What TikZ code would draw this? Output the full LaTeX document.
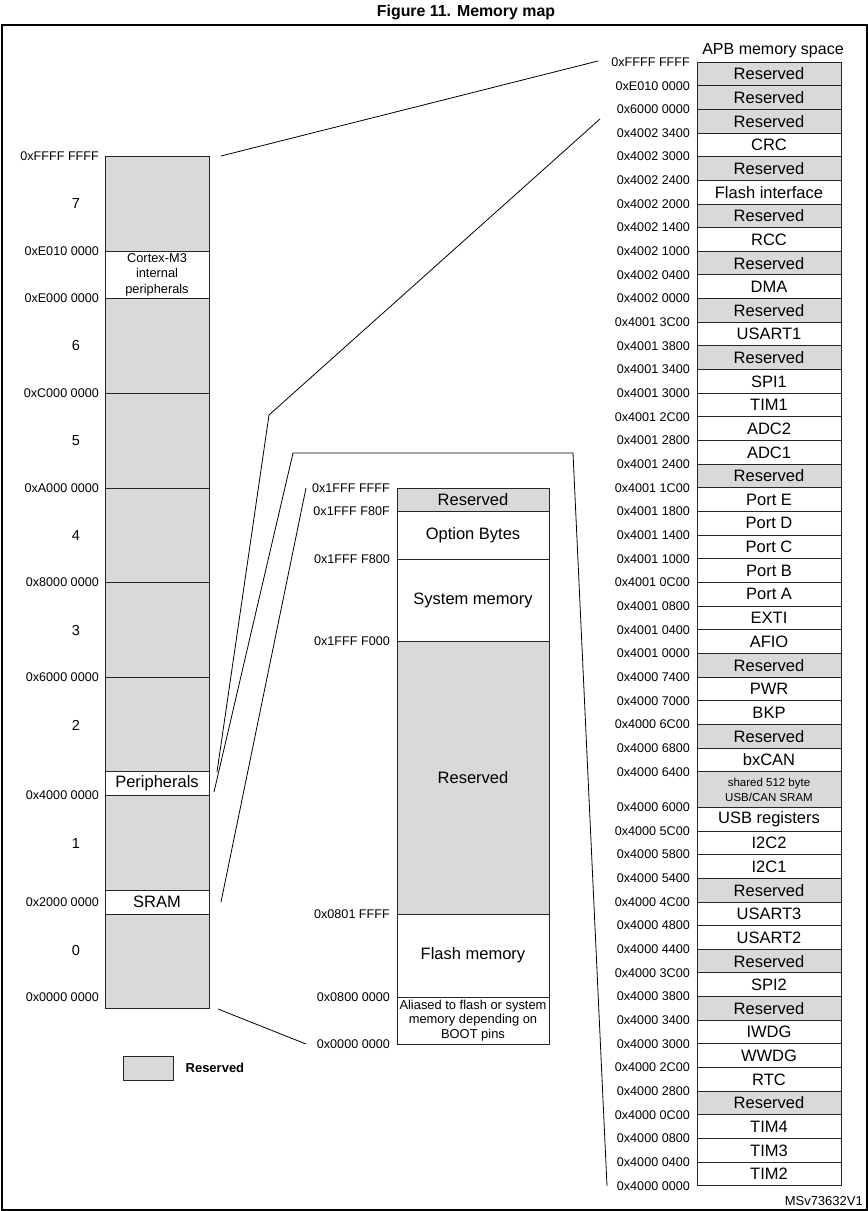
\documentclass[tikz,border=0pt]{standalone}
\usepackage{fontspec}
\setmainfont{Liberation Sans}
\usetikzlibrary{positioning}
\definecolor{resgray}{HTML}{D9D9D9}

\begin{document}
\begin{tikzpicture}[x=1pt, y=-1pt,
  box/.style={draw=black!85, line width=0.9pt, outer sep=0pt, inner sep=0pt, fill=white, font=\fontsize{16.5}{18}\selectfont},
  left col/.style={box, minimum width=104pt},
  mid col/.style={box, minimum width=152pt},
  apb/.style={box, minimum width=144pt, minimum height=23.66pt},
  res/.style={fill=resgray},
  addr/.style={anchor=east, inner sep=0pt, font=\fontsize{12.6}{14}\selectfont},
  num/.style={inner sep=0pt, font=\fontsize{14.5}{16}\selectfont},
  fan/.style={line width=0.8pt}]
\useasboundingbox (0,0) rectangle (868,1211);
\draw[line width=2pt] (2,25) rectangle (866.5,1209.5);
\node[anchor=base, font=\bfseries\fontsize{15.9}{18}\selectfont] (title) at (466,16.7) {Figure 11. Memory map};

\node[left col, res, minimum height=95pt, anchor=north] (b7) at (157,156) {};  \node[addr] at ([xshift=-6pt]b7.north west) {0xFFFF FFFF};
\node[left col, minimum height=47pt, below=0pt of b7, align=center, font=\fontsize{12.8}{15.5}\selectfont] (cortex) {Cortex-M3\\internal\\peripherals};
\node[addr] at ([xshift=-6pt]cortex.north west) {0xE010 0000};
\node[left col, res, minimum height=95pt, below=0pt of cortex] (b6) {};  \node[addr] at ([xshift=-6pt]b6.north west) {0xE000 0000};
\node[left col, res, minimum height=95pt, below=0pt of b6] (b5) {};  \node[addr] at ([xshift=-6pt]b5.north west) {0xC000 0000};
\node[left col, res, minimum height=94pt, below=0pt of b5] (b4) {};  \node[addr] at ([xshift=-6pt]b4.north west) {0xA000 0000};
\node[left col, res, minimum height=95pt, below=0pt of b4] (b3) {};  \node[addr] at ([xshift=-6pt]b3.north west) {0x8000 0000};
\node[left col, res, minimum height=94pt, below=0pt of b3] (b2) {};  \node[addr] at ([xshift=-6pt]b2.north west) {0x6000 0000};
\node[left col, minimum height=24pt, below=0pt of b2] (periph) {Peripherals};
\node[left col, res, minimum height=95pt, below=0pt of periph] (b1) {};  \node[addr] at ([xshift=-6pt]b1.north west) {0x4000 0000};
\node[left col, minimum height=24pt, below=0pt of b1] (sram) {SRAM};  \node[addr] at ([xshift=-6pt]sram.west) {0x2000 0000};
\node[left col, res, minimum height=94pt, below=0pt of sram] (b0) {};  \node[addr] at ([xshift=-6pt,yshift=11pt]b0.south west) {0x0000 0000};
\node[num] (n7) at (76,204) {7};
\node[num] (n6) at (76,346) {6};
\node[num] (n5) at (76,441) {5};
\node[num] (n4) at (76,536) {4};
\node[num] (n3) at (76,630) {3};
\node[num] (n2) at (76,725) {2};
\node[num] (n1) at (76,843) {1};
\node[num] (n0) at (76,950) {0};

\node[mid col, res, minimum height=23pt, anchor=north] (m1) at (473,488) {Reserved};  \node[addr] at ([xshift=-7pt]m1.north west) {0x1FFF FFFF};
\node[mid col, minimum height=48pt, below=0pt of m1] (optb) {Option Bytes};  \node[addr] at ([xshift=-7pt]optb.north west) {0x1FFF F80F};
\node[mid col, minimum height=82pt, below=0pt of optb] (sysmem) {System memory};  \node[addr] at ([xshift=-7pt]sysmem.north west) {0x1FFF F800};
\node[mid col, res, minimum height=273pt, below=0pt of sysmem] (m2) {Reserved};  \node[addr] at ([xshift=-7pt]m2.north west) {0x1FFF F000};
\node[mid col, minimum height=83pt, below=0pt of m2] (flash) {Flash memory};  \node[addr] at ([xshift=-7pt]flash.north west) {0x0801 FFFF};
\node[mid col, minimum height=47pt, below=0pt of flash, align=center, font=\fontsize{12.9}{14.7}\selectfont] (alias) {Aliased to flash or system\\memory depending on\\BOOT pins};
\node[addr] at ([xshift=-7pt]alias.north west) {0x0800 0000};
\node[addr] at ([xshift=-7pt]alias.south west) {0x0000 0000};

\node[anchor=base, inner sep=0pt, font=\fontsize{16}{18}\selectfont] (apbhead) at (773,54) {APB memory space};
\node[apb, res, anchor=north] (p1) at (769,62) {Reserved};  \node[addr] at ([xshift=-7pt]p1.north west) {0xFFFF FFFF};
\node[apb, res, below=0pt of p1] (p2) {Reserved};  \node[addr] at ([xshift=-7pt]p2.north west) {0xE010 0000};
\node[apb, res, below=0pt of p2] (p3) {Reserved};  \node[addr] at ([xshift=-7pt]p3.north west) {0x6000 0000};
\node[apb, below=0pt of p3] (p4) {CRC};  \node[addr] at ([xshift=-7pt]p4.north west) {0x4002 3400};
\node[apb, res, below=0pt of p4] (p5) {Reserved};  \node[addr] at ([xshift=-7pt]p5.north west) {0x4002 3000};
\node[apb, below=0pt of p5] (p6) {Flash interface};  \node[addr] at ([xshift=-7pt]p6.north west) {0x4002 2400};
\node[apb, res, below=0pt of p6] (p7) {Reserved};  \node[addr] at ([xshift=-7pt]p7.north west) {0x4002 2000};
\node[apb, below=0pt of p7] (p8) {RCC};  \node[addr] at ([xshift=-7pt]p8.north west) {0x4002 1400};
\node[apb, res, below=0pt of p8] (p9) {Reserved};  \node[addr] at ([xshift=-7pt]p9.north west) {0x4002 1000};
\node[apb, below=0pt of p9] (p10) {DMA};  \node[addr] at ([xshift=-7pt]p10.north west) {0x4002 0400};
\node[apb, res, below=0pt of p10] (p11) {Reserved};  \node[addr] at ([xshift=-7pt]p11.north west) {0x4002 0000};
\node[apb, below=0pt of p11] (p12) {USART1};  \node[addr] at ([xshift=-7pt]p12.north west) {0x4001 3C00};
\node[apb, res, below=0pt of p12] (p13) {Reserved};  \node[addr] at ([xshift=-7pt]p13.north west) {0x4001 3800};
\node[apb, below=0pt of p13] (p14) {SPI1};  \node[addr] at ([xshift=-7pt]p14.north west) {0x4001 3400};
\node[apb, below=0pt of p14] (p15) {TIM1};  \node[addr] at ([xshift=-7pt]p15.north west) {0x4001 3000};
\node[apb, below=0pt of p15] (p16) {ADC2};  \node[addr] at ([xshift=-7pt]p16.north west) {0x4001 2C00};
\node[apb, below=0pt of p16] (p17) {ADC1};  \node[addr] at ([xshift=-7pt]p17.north west) {0x4001 2800};
\node[apb, res, below=0pt of p17] (p18) {Reserved};  \node[addr] at ([xshift=-7pt]p18.north west) {0x4001 2400};
\node[apb, below=0pt of p18] (p19) {Port E};  \node[addr] at ([xshift=-7pt]p19.north west) {0x4001 1C00};
\node[apb, below=0pt of p19] (p20) {Port D};  \node[addr] at ([xshift=-7pt]p20.north west) {0x4001 1800};
\node[apb, below=0pt of p20] (p21) {Port C};  \node[addr] at ([xshift=-7pt]p21.north west) {0x4001 1400};
\node[apb, below=0pt of p21] (p22) {Port B};  \node[addr] at ([xshift=-7pt]p22.north west) {0x4001 1000};
\node[apb, below=0pt of p22] (p23) {Port A};  \node[addr] at ([xshift=-7pt]p23.north west) {0x4001 0C00};
\node[apb, below=0pt of p23] (p24) {EXTI};  \node[addr] at ([xshift=-7pt]p24.north west) {0x4001 0800};
\node[apb, below=0pt of p24] (p25) {AFIO};  \node[addr] at ([xshift=-7pt]p25.north west) {0x4001 0400};
\node[apb, res, below=0pt of p25] (p26) {Reserved};  \node[addr] at ([xshift=-7pt]p26.north west) {0x4001 0000};
\node[apb, below=0pt of p26] (p27) {PWR};  \node[addr] at ([xshift=-7pt]p27.north west) {0x4000 7400};
\node[apb, below=0pt of p27] (p28) {BKP};  \node[addr] at ([xshift=-7pt]p28.north west) {0x4000 7000};
\node[apb, res, below=0pt of p28] (p29) {Reserved};  \node[addr] at ([xshift=-7pt]p29.north west) {0x4000 6C00};
\node[apb, below=0pt of p29] (p30) {bxCAN};  \node[addr] at ([xshift=-7pt]p30.north west) {0x4000 6800};
\node[apb, res, minimum height=35.5pt, below=0pt of p30, align=center, font=\fontsize{11.5}{15}\selectfont] (p31) {shared 512 byte\\USB/CAN SRAM};
\node[addr] at ([xshift=-7pt]p31.north west) {0x4000 6400};
\node[apb, below=0pt of p31] (p32) {USB registers};  \node[addr] at ([xshift=-7pt]p32.north west) {0x4000 6000};
\node[apb, below=0pt of p32] (p33) {I2C2};  \node[addr] at ([xshift=-7pt]p33.north west) {0x4000 5C00};
\node[apb, below=0pt of p33] (p34) {I2C1};  \node[addr] at ([xshift=-7pt]p34.north west) {0x4000 5800};
\node[apb, res, below=0pt of p34] (p35) {Reserved};  \node[addr] at ([xshift=-7pt]p35.north west) {0x4000 5400};
\node[apb, below=0pt of p35] (p36) {USART3};  \node[addr] at ([xshift=-7pt]p36.north west) {0x4000 4C00};
\node[apb, below=0pt of p36] (p37) {USART2};  \node[addr] at ([xshift=-7pt]p37.north west) {0x4000 4800};
\node[apb, res, below=0pt of p37] (p38) {Reserved};  \node[addr] at ([xshift=-7pt]p38.north west) {0x4000 4400};
\node[apb, below=0pt of p38] (p39) {SPI2};  \node[addr] at ([xshift=-7pt]p39.north west) {0x4000 3C00};
\node[apb, res, below=0pt of p39] (p40) {Reserved};  \node[addr] at ([xshift=-7pt]p40.north west) {0x4000 3800};
\node[apb, below=0pt of p40] (p41) {IWDG};  \node[addr] at ([xshift=-7pt]p41.north west) {0x4000 3400};
\node[apb, below=0pt of p41] (p42) {WWDG};  \node[addr] at ([xshift=-7pt]p42.north west) {0x4000 3000};
\node[apb, below=0pt of p42] (p43) {RTC};  \node[addr] at ([xshift=-7pt]p43.north west) {0x4000 2C00};
\node[apb, res, below=0pt of p43] (p44) {Reserved};  \node[addr] at ([xshift=-7pt]p44.north west) {0x4000 2800};
\node[apb, below=0pt of p44] (p45) {TIM4};  \node[addr] at ([xshift=-7pt]p45.north west) {0x4000 0C00};
\node[apb, below=0pt of p45] (p46) {TIM3};  \node[addr] at ([xshift=-7pt]p46.north west) {0x4000 0800};
\node[apb, below=0pt of p46] (p47) {TIM2};  \node[addr] at ([xshift=-7pt]p47.north west) {0x4000 0400};
\node[addr] at ([xshift=-7pt]p47.south west) {0x4000 0000};

\coordinate (topend) at (598,61);
\coordinate (upend) at (600,119);
\coordinate (upbend) at (269,415);
\coordinate (lowbend) at (293,453);
\coordinate (lowturn) at (573,453);
\coordinate (lowend) at (607,1186);
\coordinate (bootend) at (306,488);
\coordinate (zeroend) at (306,1044);
\draw[fan] ([xshift=12pt]b7.north east) -- (topend);
\draw[fan] ([xshift=8pt,yshift=-1pt]periph.north east) -- (upbend) -- (upend);
\draw[fan] ([xshift=5pt,yshift=3pt]periph.south east) -- (lowbend) -- (lowturn) -- (lowend);
\draw[fan] ([xshift=12pt]sram.east) -- (bootend);
\draw[fan] ([xshift=9pt,yshift=-1pt]b0.south east) -- (zeroend);

\node[draw=black!85, fill=resgray, line width=0.9pt, minimum width=50pt, minimum height=24pt] (legbox) at (148,1068) {};
\node[right=12pt of legbox, inner sep=0pt, font=\bfseries\fontsize{13}{15}\selectfont] (legtext) {Reserved};
\node[anchor=base east, inner sep=0pt, font=\fontsize{13}{15}\selectfont] (docid) at (863,1205) {MSv73632V1};
\end{tikzpicture}
\end{document}
